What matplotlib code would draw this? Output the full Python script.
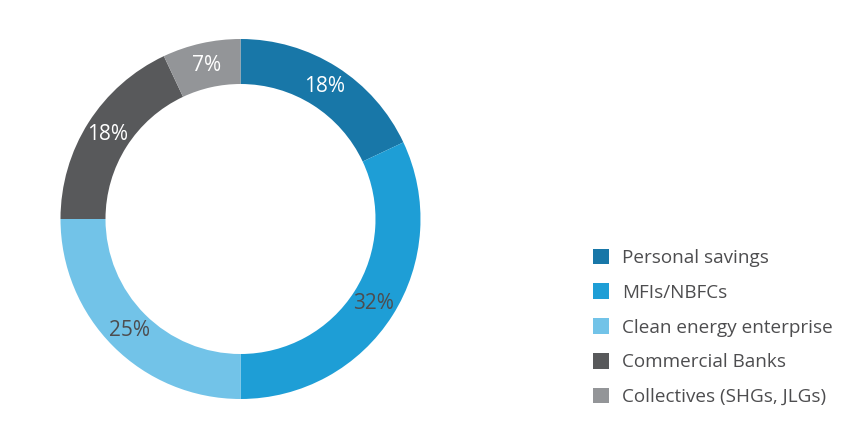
import matplotlib
matplotlib.use("Agg")
import matplotlib.pyplot as plt

categories = ["Personal savings", "MFIs/NBFCs", "Clean energy enterprise",
              "Commercial Banks", "Collectives (SHGs, JLGs)"]
values = [18, 32, 25, 18, 7]
colors = ["#1877A8", "#1E9ED6", "#72C3E8", "#58595B", "#939598"]
label_colors = ["white", "#4D4D4F", "#4D4D4F", "white", "white"]

plt.rcParams['font.family'] = ['Open Sans', 'DejaVu Sans']

W, H = 866, 437
fig = plt.figure(figsize=(W / 100, H / 100), dpi=100)
cx, cy, r = 240.5, 219, 180
ax = fig.add_axes([(cx - r) / W, (H - cy - r) / H, 2 * r / W, 2 * r / H])

wedges, texts = ax.pie(values, colors=colors, startangle=90, counterclock=False,
                       radius=1.0, wedgeprops=dict(width=0.25, linewidth=0),
                       labels=[f"{v}%" for v in values], labeldistance=0.875,
                       textprops=dict(fontsize=15, ha='center', va='center'))
for t, c in zip(texts, label_colors):
    t.set_color(c)
    t.set_horizontalalignment('center')
ax.set_xlim(-1, 1)
ax.set_ylim(-1, 1)
ax.set_aspect('equal')
ax.axis('off')

leg = fig.legend(wedges, categories, loc='upper left',
                 bbox_to_anchor=(585 / W, 1 - 241 / H), frameon=False,
                 fontsize=13.6, handlelength=0.88, handleheight=0.88,
                 handletextpad=0.7, labelspacing=0.88, borderaxespad=0)
for t in leg.get_texts():
    t.set_color("#4D4D4F")

fig.savefig("out.png", dpi=100)
